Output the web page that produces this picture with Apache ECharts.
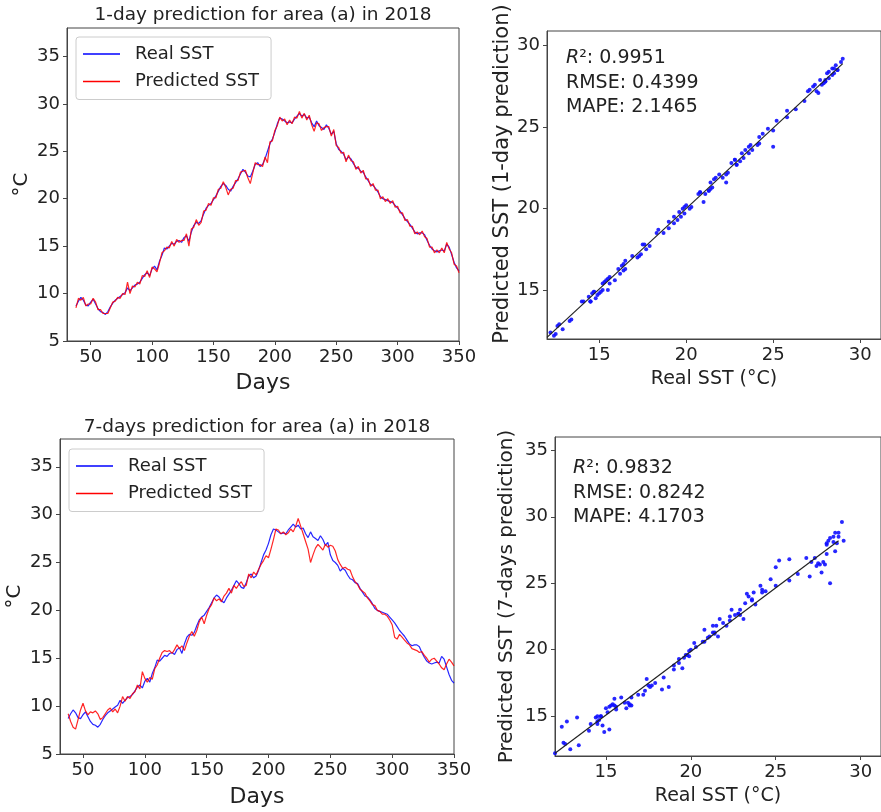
<!DOCTYPE html>
<html>
<head>
<meta charset="utf-8">
<script src="https://cdn.jsdelivr.net/npm/echarts@6/dist/echarts.min.js"></script>
<style>html,body{margin:0;padding:0;background:#fff;}#c{width:881px;height:812px;}</style>
</head>
<body>
<div id="c"></div>
<script>
// ---- data ----
const days = [38,40,42,44,46,48,50,52,54,56,58,60,62,64,66,68,70,72,74,76,78,80,82,84,86,88,90,92,94,96,98,100,102,104,106,108,110,112,114,116,118,120,122,124,126,128,130,132,134,136,138,140,142,144,146,148,150,152,154,156,158,160,162,164,166,168,170,172,174,176,178,180,182,184,186,188,190,192,194,196,198,200,202,204,206,208,210,212,214,216,218,220,222,224,226,228,230,232,234,236,238,240,242,244,246,248,250,252,254,256,258,260,262,264,266,268,270,272,274,276,278,280,282,284,286,288,290,292,294,296,298,300,302,304,306,308,310,312,314,316,318,320,322,324,326,328,330,332,334,336,338,340,342,344,346,348,350];

const realSST = [
8.7,9.2,9.6,9.3,8.8,8.7,9.1,9.4,8.9,8.4,
8.1,8.0,7.8,8.1,8.6,9.0,9.3,9.5,9.7,9.9,
10.1,10.6,10.3,10.6,10.9,11.0,11.2,11.6,12.0,12.2,
11.9,12.6,12.9,12.5,13.4,14.0,14.8,14.7,15.0,15.3,
15.2,15.5,15.6,15.4,15.9,16.1,15.5,16.5,17.2,17.5,
17.4,17.7,18.4,19.0,19.3,19.5,19.9,20.3,20.8,21.3,
21.6,21.4,21.0,20.8,21.3,21.7,22.1,22.6,23.1,22.8,
22.4,22.3,22.9,23.6,23.8,23.4,23.6,24.2,25.0,25.8,
26.3,27.0,27.9,28.5,28.4,28.2,28.0,28.1,28.0,28.4,
28.7,29.0,28.7,28.9,28.5,28.6,28.0,27.6,28.2,27.7,
27.5,27.3,27.8,27.4,26.8,27.1,25.8,25.2,25.0,24.7,
24.1,24.4,24.2,23.7,23.3,23.2,22.9,22.8,22.3,21.9,
21.5,21.4,21.1,20.7,20.2,20.0,19.9,19.8,19.7,19.6,
19.3,19.0,18.7,18.3,17.9,17.6,17.3,16.9,16.5,16.3,
16.4,16.4,16.2,15.6,15.1,14.7,14.5,14.4,14.5,14.6,
14.5,15.2,14.9,14.1,13.3,12.7,12.4];

const pred1day = [
8.5,9.5,9.3,9.6,8.7,8.9,8.9,9.5,9.1,8.3,
8.3,7.9,7.9,7.9,8.5,9.1,9.2,9.6,9.5,10.0,
9.9,11.2,10.0,10.8,10.7,11.2,11.0,11.9,11.8,12.4,
11.7,12.8,12.6,12.3,13.2,14.3,14.5,14.9,14.8,15.5,
15.0,15.7,15.4,15.6,15.6,16.3,15.0,16.8,17.0,17.8,
17.2,17.5,18.7,18.8,19.5,19.3,20.1,20.1,21.0,21.1,
21.8,21.2,20.4,21.0,21.1,21.9,21.9,22.8,22.9,23.0,
22.2,21.6,22.7,23.8,23.6,23.6,23.4,24.4,23.8,26.0,
26.1,27.2,27.7,28.6,28.2,28.4,27.8,28.3,27.9,28.6,
28.5,29.2,28.5,29.0,28.3,28.8,27.8,27.1,28.0,27.9,
27.2,27.5,27.6,27.6,26.6,27.3,25.6,25.4,24.8,24.9,
23.9,24.6,24.0,23.9,23.1,23.4,22.7,23.0,22.1,22.1,
21.3,21.6,20.9,20.9,20.0,20.2,19.7,20.0,19.5,19.8,
19.1,19.2,18.5,18.5,17.7,17.8,17.1,17.1,16.3,16.5,
16.2,16.6,16.0,15.8,14.9,14.9,14.3,14.6,14.3,14.8,
14.3,15.4,14.7,14.3,13.1,12.9,12.2];

const pred7day = [
9.2,8.4,7.8,7.6,8.6,9.6,10.3,9.5,9.1,9.4,
9.3,9.5,9.2,8.6,8.8,9.2,9.6,9.8,9.4,9.7,
9.3,10.0,11.0,10.5,11.0,10.8,11.3,11.5,12.2,11.8,
13.6,12.9,12.5,13.0,12.8,13.9,14.3,15.0,15.6,15.8,
15.7,15.8,15.5,15.9,16.4,16.0,16.3,15.8,16.6,17.3,
17.8,17.3,17.9,18.8,19.3,18.6,19.5,20.2,20.6,21.3,
21.0,21.2,20.9,21.5,21.8,22.3,21.8,22.6,22.3,22.7,
23.0,22.5,22.6,23.8,23.4,24.0,23.7,24.3,24.8,25.2,
25.7,25.5,26.4,27.4,28.5,28.4,28.0,28.2,27.9,28.1,
28.5,28.2,28.8,29.6,28.8,28.0,27.2,26.4,25.0,25.8,
26.5,26.9,26.6,26.3,26.9,26.6,26.8,26.7,26.2,25.3,
24.8,24.4,24.5,24.3,24.2,23.5,23.0,22.7,22.2,22.0,
21.8,21.3,21.0,20.6,20.5,20.0,19.9,19.6,19.6,19.4,
19.0,18.5,17.2,17.0,17.5,17.2,16.9,16.6,16.4,16.0,
15.9,15.8,15.6,15.7,15.3,15.0,14.6,14.9,15.0,14.7,
14.4,14.0,13.8,14.4,14.9,14.6,14.2];

const fit1X = [12.0, 29.0], fit1Y = [12.1, 28.9];
const fit7X = [12.0, 28.7], fit7Y = [12.2, 28.2];

const dayTicks = [50,100,150,200,250,300,350];
const sstTicks = [5,10,15,20,25,30,35];
const scatterXTicks = [15,20,25,30];
const scatter1YTicks = [15,20,25,30];
const scatter7YTicks = [15,20,25,30,35];

const stats1 = {r2:'0.9951', rmse:'0.4399', mape:'2.1465'};
const stats7 = {r2:'0.9832', rmse:'0.8242', mape:'4.1703'};

// ---- build ----
const FONT = 'DejaVu Sans';
const pairs = (xs, ys) => xs.map((x, i) => [x, ys[i]]);

function valAxis(gridIndex, min, max, ticks, name, nameGap, nameSize, namePad) {
  return {
    type: 'value', gridIndex, min, max, name, nameLocation: 'middle', nameGap,
    nameTextStyle: {fontFamily: FONT, fontSize: nameSize, color: '#222', padding: namePad || 0},
    axisLine: {show: true, onZero: false, lineStyle: {color: '#444', width: 1}},
    axisTick: {show: true, length: 4, customValues: ticks, lineStyle: {color: '#444'}},
    axisLabel: {customValues: ticks, fontFamily: FONT, fontSize: 18, color: '#222', margin: 7},
    splitLine: {show: false}
  };
}

const grids = [
  {left: 67, top: 28, width: 392, height: 313},
  {left: 547, top: 31, right: -5, height: 308},
  {left: 60, top: 439, width: 394, height: 315},
  {left: 555, top: 437, right: -6, height: 319}
].map(g => Object.assign({show: true, borderColor: '#444', borderWidth: 1, containLabel: false}, g));

const xAxes = [
  valAxis(0, 30.7, 350, dayTicks, 'Days', 31, 22),
  valAxis(1, 12, 31.2, scatterXTicks, 'Real SST (\u00b0C)', 31, 19),
  valAxis(2, 31.4, 350, dayTicks, 'Days', 32, 22),
  valAxis(3, 12, 31.2, scatterXTicks, 'Real SST (\u00b0C)', 31, 19)
];
const yAxes = [
  valAxis(0, 5, 38, sstTicks, '\u00b0C', 35, 20),
  valAxis(1, 12, 30.9, scatter1YTicks, 'Predicted SST (1-day prediction)', 34, 21, [0, 0, 0, 22]),
  valAxis(2, 5, 37.9, sstTicks, '\u00b0C', 35, 20),
  valAxis(3, 12, 36, scatter7YTicks, 'Predicted SST (7-days prediction)', 38, 20)
];

function lineSeries(name, color, xi, ys, z) {
  return {
    type: 'line', name, xAxisIndex: xi, yAxisIndex: xi, data: pairs(days, ys),
    symbol: 'none', lineStyle: {color, width: 1.2, opacity: 0.85}, itemStyle: {color},
    z, animation: false, clip: true
  };
}
function scatterSeries(xi, ys) {
  return {
    type: 'scatter', xAxisIndex: xi, yAxisIndex: xi, data: pairs(realSST, ys),
    symbolSize: 4, itemStyle: {color: '#1010ff', opacity: 0.9}, clip: true, animation: false, z: 2
  };
}
function fitSeries(xi, fx, fy) {
  return {
    type: 'line', xAxisIndex: xi, yAxisIndex: xi, data: pairs(fx, fy), symbol: 'none',
    lineStyle: {color: '#222', width: 1.2}, z: 3, animation: false, silent: true
  };
}

function statText(left, top, s) {
  const base = {fontFamily: FONT, fontSize: 19, fill: '#222'};
  const rows = [
    '{i|R}\u00b2: ' + s.r2,
    'RMSE: ' + s.rmse,
    'MAPE: ' + s.mape
  ];
  return {
    type: 'text', left, top,
    style: Object.assign({}, base, {
      text: rows.join('\n'), lineHeight: 24.5,
      rich: {i: {fontStyle: 'italic', fontFamily: FONT, fontSize: 19, fill: '#222'}}
    }), z: 10
  };
}

function legendAt(left, top) {
  return {
    orient: 'vertical', left, top, data: ['Real SST', 'Predicted SST'],
    icon: 'rect', itemWidth: 37, itemHeight: 1.5, itemGap: 9.5, padding: [8, 12, 9, 7],
    borderColor: '#ccc', borderWidth: 1, borderRadius: 3, backgroundColor: '#fff',
    textStyle: {fontFamily: FONT, fontSize: 18, color: '#222', padding: [0, 0, 0, 10]},
    selectedMode: false
  };
}

const option = {
  animation: false,
  backgroundColor: '#fff',
  title: [
    {text: '1-day prediction for area (a) in 2018', left: 263, top: 6, textAlign: 'center', padding: 0,
     textStyle: {fontFamily: FONT, fontSize: 18.5, fontWeight: 'normal', color: '#222'}},
    {text: '7-days prediction for area (a) in 2018', left: 257, top: 418, textAlign: 'center', padding: 0,
     textStyle: {fontFamily: FONT, fontSize: 18.5, fontWeight: 'normal', color: '#222'}}
  ],
  legend: [legendAt(76, 37), legendAt(69, 449)],
  grid: grids,
  xAxis: xAxes,
  yAxis: yAxes,
  series: [
    lineSeries('Real SST', '#0000ff', 0, realSST, 2),
    lineSeries('Predicted SST', '#ff0000', 0, pred1day, 3),
    lineSeries('Real SST', '#0000ff', 2, realSST, 2),
    lineSeries('Predicted SST', '#ff0000', 2, pred7day, 3),
    scatterSeries(1, pred1day),
    fitSeries(1, fit1X, fit1Y),
    scatterSeries(3, pred7day),
    fitSeries(3, fit7X, fit7Y)
  ],
  graphic: [statText(566, 46, stats1), statText(573, 456, stats7)]
};

const chart = echarts.init(document.getElementById('c'), null, {renderer: 'canvas'});
chart.setOption(option);
</script>
</body>
</html>
